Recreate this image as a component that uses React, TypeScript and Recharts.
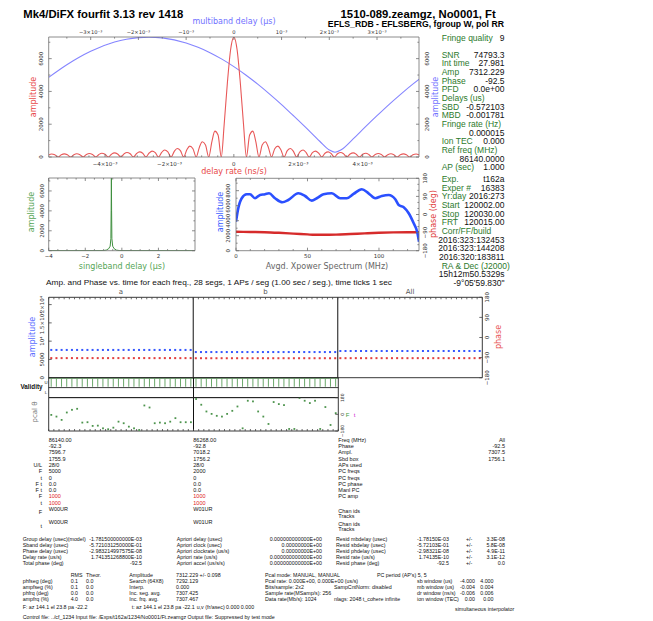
import React from 'react';
import { LineChart, Line, XAxis, YAxis, ComposedChart, Scatter, Bar, ReferenceLine } from 'recharts';

const W = 653;
const H = 621;
const SANS = '"Liberation Sans", Arial, Helvetica, sans-serif';
const PLOT = '"DejaVu Sans", sans-serif';

// ---------------- data ----------------
// delay-rate function (x in 10^-3 ns/s)
const rateX = [-5.75,-5.66,-5.56,-5.46,-5.36,-5.27,-5.17,-5.07,-4.97,-4.88,-4.78,-4.68,-4.58,-4.49,-4.39,-4.29,-4.19,-4.10,-4.00,-3.90,-3.80,-3.71,-3.61,-3.51,-3.41,-3.32,-3.22,-3.12,-3.02,-2.93,-2.83,-2.73,-2.63,-2.54,-2.44,-2.34,-2.24,-2.15,-2.05,-1.95,-1.85,-1.76,-1.66,-1.56,-1.46,-1.37,-1.27,-1.17,-1.07,-0.98,-0.88,-0.78,-0.68,-0.59,-0.49,-0.39,-0.30,-0.20,-0.10,0,0.10,0.20,0.30,0.39,0.49,0.59,0.68,0.78,0.88,0.98,1.07,1.17,1.27,1.37,1.46,1.56,1.66,1.76,1.85,1.95,2.05,2.15,2.24,2.34,2.44,2.54,2.63,2.73,2.83,2.93,3.02,3.12,3.22,3.32,3.41,3.51,3.61,3.71,3.80,3.90,4.00,4.10,4.19,4.29,4.39,4.49,4.58,4.68,4.78,4.88,4.97,5.07,5.17,5.27,5.36,5.46,5.56,5.66,5.75];
const rateAmp = [127,182,131,0,132,190,137,0,139,200,144,0,147,212,153,0,157,228,165,0,172,250,182,0,190,276,201,0,213,312,228,0,244,358,263,0,286,423,313,0,346,517,387,0,439,665,506,0,598,930,731,0,957,1580,1340,0,2000,4540,6560,7312,6560,4540,2000,0,1340,1580,957,0,731,930,598,0,506,665,439,0,387,517,346,0,313,423,286,0,263,358,244,0,228,312,213,0,201,276,190,0,182,250,172,0,165,228,157,0,153,212,147,0,144,200,139,0,137,190,132,0,131,182,127];

// multiband delay function (x in 10^-3 us)
const mbdX = [-3.88,-3.5,-3.25,-3.0,-2.5,-2.25,-2.0,-1.78,-1.5,-1.0,-0.75,-0.5,-0.25,0,0.25,0.5,0.75,1.0,1.25,1.5,1.8,2.0,2.12,2.25,2.5,2.75,3.0,3.25,3.5,3.75,3.88];
const mbdAmp = [4860,5630,6070,6450,7010,7180,7280,7312,7265,6955,6690,6365,5970,5515,5005,4445,3840,3200,2515,1820,960,430,290,440,1100,1820,2520,3200,3840,4445,4740];

// singleband delay function (us)
const sbdX = [-4,-1.0,-0.85,-0.72,-0.64,-0.6,-0.585,-0.572,-0.56,-0.545,-0.5,-0.42,-0.3,-0.15,4];
const sbdAmp = [15,20,60,200,450,1200,4000,7312,4000,1200,450,200,60,20,15];

// averaged cross-power spectrum
const specFreq = [0,1.6,4,7.5,9.8,13.3,16.8,20.3,23.1,27.3,32.4,36.6,43.6,48.3,53,56.5,61.2,67,72.8,77.5,82.2,88,92.7,97.4,102,106.8,111.4,113.8,117.3,120.8,124.3,126.7,128];
const specAmp = [3870,5650,6990,7520,7520,6990,7430,7520,7650,6990,6450,6760,7650,7290,6670,6990,7520,7650,6990,6990,7560,8190,7650,6990,7290,7430,6860,6090,5790,4990,3650,2530,1200];
const phaseFreq = [0,10,20,30,40,50,55,60,70,80,90,100,110,120,128];
const specPhase = [-86,-87,-88,-91,-95,-99,-101,-101,-100,-97,-94,-91,-89,-88,-88];

// per-segment amplitude / phase (28 segments)
const ampA = [7598,7596,7597,7595,7598,7597,7596,7599,7597,7596,7595,7597,7598,7596,7597,7596,7598,7597,7595,7596,7598,7597,7596,7597,7598,7596,7597,7596];
const ampB = [7019,7017,7018,7020,7018,7016,7019,7018,7017,7019,7018,7020,7017,7018,7019,7018,7016,7018,7019,7017,7018,7020,7018,7017,7019,7018,7017,7018];
const ampAll = [7308,7306,7307,7308,7307,7306,7308,7307,7306,7308,7307,7308,7306,7307,7308,7307,7306,7307,7308,7306,7307,7308,7307,7306,7308,7307,7306,7307];
const phA = [-92.2,-92.4,-92.3,-92.3,-92.2,-92.4,-92.3,-92.3,-92.2,-92.3,-92.4,-92.3,-92.3,-92.2,-92.3,-92.4,-92.3,-92.3,-92.2,-92.3,-92.4,-92.3,-92.3,-92.2,-92.3,-92.4,-92.3,-92.3];
const phB = [-92.8,-92.7,-92.9,-92.8,-92.8,-92.7,-92.9,-92.8,-92.8,-92.7,-92.9,-92.8,-92.8,-92.7,-92.9,-92.8,-92.8,-92.7,-92.9,-92.8,-92.8,-92.7,-92.9,-92.8,-92.8,-92.7,-92.9,-92.8];
const phAll = [-92.5,-92.6,-92.5,-92.4,-92.5,-92.6,-92.5,-92.4,-92.5,-92.6,-92.5,-92.4,-92.5,-92.6,-92.5,-92.4,-92.5,-92.6,-92.5,-92.4,-92.5,-92.6,-92.5,-92.4,-92.5,-92.6,-92.5,-92.4];

// validity flags (USB) per segment
const validA = [1,1,1,1,1,1,1,1,1,1,1,1,1,1,1,1,1,1,1,1,1,1,1,1,1,1,1,1];
const validB = [1,1,1,1,1,1,1,1,1,1,1,1,1,1,1,1,1,1,1,1,1,1,1,1,1,1,1,1];

// pcal phases per segment (deg)
const pcalA = [-6,-24,-60,20,49,60,-89,-85,-125,-122,-151,-161,-144,-79,-96,-133,-151,-169,96,74,-96,-89,-96,-79,-41,-85,-85,-85];
const pcalB = [166,104,31,5,-16,-24,5,38,85,-151,147,140,31,-24,-104,133,111,100,-158,-158,177,147,122,147,-158,79,-115,13];

// axis ticks
const rateTicks = [-5.5,-5,-4.5,-4,-3.5,-3,-2.5,-2,-1.5,-1,-0.5,0,0.5,1,1.5,2,2.5,3,3.5,4,4.5,5,5.5];
const rateMajor = [-4,-2,0,2,4];
const mbdTicks = [-3.5,-3,-2.5,-2,-1.5,-1,-0.5,0,0.5,1,1.5,2,2.5,3,3.5];
const mbdMajor = [-3,-2,-1,0,1,2,3];
const ampTicks = [0,1000,2000,3000,4000,5000,6000,7000];
const ampMajor = [0,2000,4000,6000];
const sbdTicks = [-4,-3.5,-3,-2.5,-2,-1.5,-1,-0.5,0,0.5,1,1.5,2,2.5,3,3.5];
const sbdMajor = [-4,-2,0,2];
const freqTicks = [0,10,20,30,40,50,60,70,80,90,100,110,120];
const freqMajor = [0,50,100];
const specAmpTicks = [0,1000,2000,3000,4000,5000,6000,7000,8000,9000];
const specAmpMajor = [0,2000,4000,6000,8000];
const phTicks = [-180,-150,-120,-90,-60,-30,0,30,60,90,120,150,180];
const phMajor = [-180,-90,0,90,180];

// text blocks
const fringeQuality = ['Fringe quality', '9'];
const summaryRows = [['SNR','74793.3'],['Int time','27.981'],['Amp','7312.229'],['Phase','-92.5'],['PFD','0.0e+00'],['Delays (us)',''],['SBD','-0.572103'],['MBD','-0.001781'],['Fringe rate (Hz)',''],['','0.000015'],['Ion TEC','0.000'],['Ref freq (MHz)',''],['','86140.0000'],['AP (sec)','1.000']];
const expRows = [['Exp.','t162a'],['Exper #','16383'],['Yr:day','2016:273'],['Start','120002.00'],['Stop','120030.00'],['FRT','120015.00'],['Corr/FF/build',''],['','2016:323:132453'],['','2016:323:144208'],['','2016:320:183811'],['RA & Dec (J2000)',''],['','15h12m50.5329s'],['','-9°05\'59.830"']];

const chanHdr = ['Freq (MHz)','Phase','Ampl.','Sbd box','APs used','PC freqs','PC freqs','PC phase','Manl PC','PC amp'];
const chanA = ['86140.00','-92.3','7596.7','1755.9','28/0','5000','0','0.0','0.0','1000','1000'];
const chanB = ['86268.00','-92.8','7018.2','1756.2','28/0','2000','0','0.0','0.0','1000','1000'];
const chanAll = ['All','-92.5','7307.5','1756.1'];
const chanRowLbl = ['','','','','U/L','F','t','F t','F t','F','t'];

const resLabels = ['Group delay (usec)(model)','Sband delay (usec)','Phase delay (usec)','Delay rate (us/s)','Total phase (deg)'];
const resModel = ['-1.781500000000E-03','-5.721031250000E-01','-2.983214997575E-08','1.741351268800E-10','-92.5'];
const aprLabels = ['Apriori delay (usec)','Apriori clock (usec)','Apriori clockrate (us/s)','Apriori rate (us/s)','Apriori accel (us/s/s)'];
const aprVals = ['0.000000000000E+00','0.00000000E+00','0.00000000E+00','0.000000000000E+00','0.000000000000E+00'];
const residLabels = ['Resid mbdelay (usec)','Resid sbdelay (usec)','Resid phdelay (usec)','Resid rate (us/s)','Resid phase (deg)'];
const residVals = ['-1.78150E-03','-5.72103E-01','-2.98321E-08','1.74135E-10','-92.5'];
const residErr = ['3.3E-08','5.8E-08','4.9E-11','3.1E-12','0.0'];

const statLabels = ['phfseg (deg)','ampfseg (%)','phfrq (deg)','ampfrq (%)'];
const statRms = ['0.1','0.1','0.0','4.0'];
const statTheor = ['0.0','0.0','0.0','0.0'];
const ampLabels = ['Search (64X8)','Interp.','Inc. seg. avg.','Inc. frq. avg.'];
const ampVals = ['7292.129','0.000','7307.425','7307.467'];
const pcalInfo = ['Pcal rate: 0.000E+00,  0.000E+00  (us/s)','Bits/sample: 2x2','Sample rate(MSamp/s): 256','Data rate(Mb/s): 1024'];
const midInfo = ['','SampCntNorm: disabled','','nlags: 2048  t_cohere infinite'];
const winLabels = ['sb window (us)','mb window (us)','dr window (ns/s)','ion window (TEC)'];
const winLo = ['-4.000','-0.004','-0.006','0.00'];
const winHi = ['4.000','0.004','0.006','0.00'];

// ---------------- derived tables ----------------
const rateData = rateX.map((x, i) => ({ x, y: rateAmp[i] }));
const mbdData = mbdX.map((x, i) => ({ x, y: mbdAmp[i] }));
const sbdData = sbdX.map((x, i) => ({ x, y: sbdAmp[i] }));
const specData = specFreq.map((x, i) => ({ x, y: specAmp[i] }));
const phaseData = phaseFreq.map((x, i) => ({ x, y: specPhase[i] }));
const NSEG = 28;
const segAmp = [...ampA.map((y, i) => ({ x: i + 0.5, y })), ...ampB.map((y, i) => ({ x: NSEG + i + 0.5, y })), ...ampAll.map((y, i) => ({ x: 2 * NSEG + i + 0.5, y }))];
const segPh = [...phA.map((y, i) => ({ x: i + 0.5, y })), ...phB.map((y, i) => ({ x: NSEG + i + 0.5, y })), ...phAll.map((y, i) => ({ x: 2 * NSEG + i + 0.5, y }))];
const validData = [...validA.map((v, i) => ({ x: i + 0.5, u: v ? [1.08, 1.93] : [1, 1] })), ...validB.map((v, i) => ({ x: NSEG + i + 0.5, u: v ? [1.08, 1.93] : [1, 1] }))];
const pcalData = [...pcalA.map((y, i) => ({ x: i + 0.5, y })), ...pcalB.map((y, i) => ({ x: NSEG + i + 0.5, y }))];
const segTicks3 = Array.from({ length: 3 * NSEG + 1 }, (_, i) => i);
const segTicks2 = Array.from({ length: 2 * NSEG + 1 }, (_, i) => i);

// ---------------- helpers ----------------
const abs: React.CSSProperties = { position: 'absolute', left: 0, top: 0 };
const FRAME = '#6f6f6f';

type Side = 'left' | 'right' | 'top' | 'bottom';
type TickOpts = { side: Side; len?: number; off?: number; fs?: number; color?: string; fmt?: (v: number) => string; rot?: boolean; noLabel?: boolean; lc?: string; major?: number[] };
const mkTick = (o: TickOpts) => (p: any) => {
  const { x, y, payload } = p;
  const v = payload ? payload.value : 0;
  const isMajor = !o.major || o.major.includes(v);
  const len = isMajor ? (o.len ?? 3) : 1.6;
  const off = o.off ?? 6;
  let x2 = x, y2 = y, lx = x, ly = y;
  if (o.side === 'left') { x2 = x + len; lx = x - off; }
  else if (o.side === 'right') { x2 = x - len; lx = x + off; }
  else if (o.side === 'top') { y2 = y + len; ly = y - off; }
  else { y2 = y - len; ly = y + off; }
  const label = o.noLabel || !isMajor ? '' : (o.fmt ? o.fmt(v) : String(v));
  return (
    <g>
      <line x1={x} y1={y} x2={x2} y2={y2} stroke={o.lc ?? FRAME} strokeWidth={0.8} />
      {label !== '' && (
        <text x={lx} y={ly} textAnchor="middle" dominantBaseline="central" fontSize={o.fs ?? 5.5}
          fill={o.color ?? '#333'} fontFamily={PLOT} transform={o.rot ? `rotate(-90 ${lx} ${ly})` : undefined}>{label}</text>
      )}
    </g>
  );
};

const milli = (v: number) => {
  if (v === 0) return '0';
  const s = v < 0 ? '−' : '';
  const a = Math.abs(v);
  return a === 1 ? `${s}10⁻³` : `${s}${a}×10⁻³`;
};
const signed = (v: number) => (v < 0 ? `−${Math.abs(v)}` : String(v));
const ampFmt = (v: number) => (v === 0 ? '0' : v === 5000 ? '5000' : v === 10000 ? '10⁴' : v === 15000 ? '1.5×10⁴' : '2×10⁴');

// axes get 1px of size (zero-size axes are not drawn); margins compensate
const ax = { tickSize: 0, tickMargin: 0, interval: 0 as const, allowDataOverflow: true, axisLine: { stroke: FRAME, strokeWidth: 0.8 } };
const axK = { ...ax, axisLine: { stroke: '#222', strokeWidth: 0.9 } };
const mg = (l: number, t: number, r: number, b: number) => ({ left: l - 1, top: t - 1, right: W - r - 1, bottom: H - b - 1 });

const sq = (color: string, s = 2) => (p: any) => <rect x={p.cx - s / 2} y={p.cy - s / 2} width={s} height={s} fill={color} />;

function Tx({ x, y, t, a = 'start', s = 5.5, c = '#111', w = 400, f = SANS, r = false, tl }: any) {
  return (
    <text x={x} y={y} textAnchor={a} dominantBaseline="central" fontSize={s} fill={c} fontWeight={w} fontFamily={f}
      transform={r ? `rotate(-90 ${x} ${y})` : undefined} textLength={tl} lengthAdjust={tl ? 'spacingAndGlyphs' : undefined}>{t}</text>
  );
}

// ---------------- charts ----------------
function TopChart() {
  return (
    <LineChart width={W} height={H} margin={mg(48.7, 37, 419, 157)}>
      <XAxis xAxisId="rate" orientation="bottom" type="number" dataKey="x" domain={[-5.75, 5.75]} ticks={rateTicks} height={1} {...ax} tick={mkTick({ side: 'bottom', off: 6.5, fmt: milli, major: rateMajor })} />
      <XAxis xAxisId="mbd" orientation="top" type="number" dataKey="x" domain={[-3.88, 3.88]} ticks={mbdTicks} height={1} {...ax} tick={mkTick({ side: 'top', off: 4.8, fs: 5.2, fmt: milli, major: mbdMajor })} />
      <YAxis yAxisId="l" type="number" domain={[0, 7320]} ticks={ampTicks} width={1} {...ax} tick={mkTick({ side: 'left', off: 8, rot: true, major: ampMajor })} />
      <YAxis yAxisId="r" orientation="right" type="number" domain={[0, 7320]} ticks={ampTicks} width={1} {...ax} tick={mkTick({ side: 'right', off: 7.7, rot: true, major: ampMajor })} />
      <Line data={mbdData} xAxisId="mbd" yAxisId="l" dataKey="y" type="monotone" stroke="#8585ff" strokeWidth={1.1} dot={false} isAnimationActive={false} />
      <Line data={rateData} xAxisId="rate" yAxisId="l" dataKey="y" type="monotone" stroke="#e85858" strokeWidth={1.1} dot={false} isAnimationActive={false} />
    </LineChart>
  );
}

function SbdChart() {
  return (
    <LineChart width={W} height={H} margin={mg(48.7, 178, 195, 250.7)}>
      <XAxis xAxisId="b" orientation="bottom" type="number" dataKey="x" domain={[-4, 4]} ticks={sbdTicks} height={1} {...ax} tick={mkTick({ side: 'bottom', off: 5.5, fmt: signed, major: sbdMajor })} />
      <XAxis xAxisId="t" orientation="top" type="number" dataKey="x" domain={[-4, 4]} ticks={sbdTicks} height={1} {...ax} tick={mkTick({ side: 'top', noLabel: true, major: sbdMajor })} />
      <YAxis yAxisId="l" type="number" domain={[0, 7300]} ticks={ampTicks} width={1} {...ax} tick={mkTick({ side: 'left', off: 7, rot: true, major: ampMajor })} />
      <YAxis yAxisId="r" orientation="right" type="number" domain={[0, 7300]} ticks={ampTicks} width={1} {...ax} tick={mkTick({ side: 'right', noLabel: true, major: ampMajor })} />
      <Line data={sbdData} xAxisId="b" yAxisId="l" dataKey="y" type="linear" stroke="#3f8f3f" strokeWidth={1} dot={false} isAnimationActive={false} />
    </LineChart>
  );
}

function SpecChart() {
  return (
    <LineChart width={W} height={H} margin={mg(236, 178.3, 419, 250.7)}>
      <XAxis xAxisId="b" orientation="bottom" type="number" dataKey="x" domain={[0, 128]} ticks={freqTicks} height={1} {...ax} tick={mkTick({ side: 'bottom', off: 5.5, major: freqMajor })} />
      <XAxis xAxisId="t" orientation="top" type="number" dataKey="x" domain={[0, 128]} ticks={freqTicks} height={1} {...ax} tick={mkTick({ side: 'top', noLabel: true, major: freqMajor })} />
      <YAxis yAxisId="a" type="number" domain={[0, 9650]} ticks={specAmpTicks} width={1} {...ax} tick={mkTick({ side: 'left', off: 7.7, rot: true, major: specAmpMajor })} />
      <YAxis yAxisId="p" orientation="right" type="number" domain={[-180, 180]} ticks={phTicks} width={1} {...ax} tick={mkTick({ side: 'right', off: 6, rot: true, fmt: signed, major: phMajor })} />
      <Line data={phaseData} xAxisId="b" yAxisId="p" dataKey="y" type="monotone" stroke="#d62b2b" strokeWidth={2.4} dot={false} isAnimationActive={false} />
      <Line data={specData} xAxisId="b" yAxisId="a" dataKey="y" type="monotone" stroke="#2b50ff" strokeWidth={2.6} dot={false} isAnimationActive={false} />
    </LineChart>
  );
}

function SegChart() {
  return (
    <ComposedChart width={W} height={H} margin={mg(48.7, 297.3, 482.3, 377.7)}>
      <XAxis xAxisId="b" orientation="bottom" type="number" dataKey="x" domain={[0, 84]} ticks={[]} height={1} {...axK} tick={false} />
      <XAxis xAxisId="t" orientation="top" type="number" dataKey="x" domain={[0, 84]} ticks={segTicks3} height={1} {...axK} tick={mkTick({ side: 'top', len: 2, noLabel: true, lc: '#444' })} />
      <YAxis yAxisId="a" type="number" dataKey="y" domain={[0, 22000]} ticks={[0, 5000, 10000, 15000, 20000]} width={1} {...axK} tick={mkTick({ side: 'left', off: 7, rot: true, fmt: ampFmt, lc: '#444' })} />
      <YAxis yAxisId="p" orientation="right" type="number" dataKey="y" domain={[-180, 180]} ticks={[-180, -90, 0, 90, 180]} width={1} {...axK} tick={mkTick({ side: 'right', off: 4.5, rot: true, fmt: signed, lc: '#444' })} />
      <ReferenceLine xAxisId="t" yAxisId="a" x={NSEG} stroke="#111" strokeWidth={1} />
      <ReferenceLine xAxisId="t" yAxisId="a" x={2 * NSEG} stroke="#111" strokeWidth={1} />
      <Scatter data={segAmp} xAxisId="t" yAxisId="a" shape={sq('#3557ff')} isAnimationActive={false} />
      <Scatter data={segPh} xAxisId="t" yAxisId="p" shape={sq('#e23d3d')} isAnimationActive={false} />
    </ComposedChart>
  );
}

function ValidChart() {
  return (
    <ComposedChart width={W} height={H} data={validData} margin={mg(48.7, 377.7, 338.3, 397.5)}>
      <XAxis xAxisId="b" orientation="bottom" type="number" dataKey="x" domain={[0, 56]} ticks={[]} height={1} {...axK} tick={false} />
      <XAxis xAxisId="t" orientation="top" type="number" dataKey="x" domain={[0, 56]} ticks={[]} height={1} {...axK} tick={false} />
      <YAxis yAxisId="l" type="number" domain={[0, 2]} ticks={[]} width={1} {...axK} tick={false} />
      <YAxis yAxisId="r" orientation="right" type="number" domain={[0, 2]} ticks={[]} width={1} {...axK} tick={false} />
      <ReferenceLine xAxisId="b" yAxisId="l" y={1.93} stroke="#6aa86a" strokeWidth={0.8} />
      <Bar dataKey="u" xAxisId="b" yAxisId="l" barSize={1} fill="#6aa86a" isAnimationActive={false} />
      <ReferenceLine xAxisId="b" yAxisId="l" y={1} stroke="#222" strokeWidth={0.9} />
      <ReferenceLine xAxisId="b" yAxisId="l" x={NSEG} stroke="#111" strokeWidth={1} />
    </ComposedChart>
  );
}

function PcalChart() {
  return (
    <ComposedChart width={W} height={H} margin={mg(48.7, 397.7, 338.3, 431)}>
      <XAxis xAxisId="b" orientation="bottom" type="number" dataKey="x" domain={[0, 56]} ticks={segTicks2} height={1} {...axK} tick={mkTick({ side: 'bottom', len: 2, noLabel: true, lc: '#444' })} />
      <XAxis xAxisId="t" orientation="top" type="number" dataKey="x" domain={[0, 56]} ticks={[]} height={1} {...axK} tick={false} />
      <YAxis yAxisId="l" type="number" dataKey="y" domain={[-180, 180]} ticks={[]} width={1} {...axK} tick={false} />
      <YAxis yAxisId="r" orientation="right" type="number" dataKey="y" domain={[-180, 180]} ticks={[-180, 0, 180]} width={1} {...axK} tick={mkTick({ side: 'right', off: 3.8, rot: true, fs: 4.5, fmt: signed, lc: '#444' })} />
      <ReferenceLine xAxisId="b" yAxisId="r" x={NSEG} stroke="#111" strokeWidth={1} />
      <Scatter data={pcalData} xAxisId="b" yAxisId="r" shape={sq('#4d944d', 1.8)} isAnimationActive={false} />
    </ComposedChart>
  );
}

// ---------------- text overlay ----------------
const GT = '#2c7a2c';
function Overlay() {
  const rs = 8.65;
  const up0 = 439.7, upS = 6.3;
  const lo0 = 539, loS = 6;
  const st0 = 581, stS = 6;
  const fs = 5.3;
  return (
    <svg width={W} height={H} style={{ ...abs, pointerEvents: 'none' }}>
      {/* headers */}
      <Tx x={23.3} y={14} t="Mk4/DiFX fourfit 3.13 rev 1418" s={11.3} w={700} c="#000" />
      <Tx x={495.7} y={13.6} t="1510-089.zeamgz, No0001, Ft" a="end" s={11.3} w={700} c="#000" />
      <Tx x={504} y={24} t="EFLS_RDB - EFLSBERG, fgroup W, pol RR" a="end" s={8.7} w={700} c="#000" />

      {/* top plot titles */}
      <Tx x={234} y={21.5} t="multiband delay (µs)" a="middle" s={8} c="#7070ff" f={PLOT} />
      <Tx x={234} y={171} t="delay rate (ns/s)" a="middle" s={8} c="#e84848" f={PLOT} />
      <Tx x={33.3} y={97} t="amplitude" a="middle" s={8} c="#e84848" f={PLOT} r />
      <Tx x={435} y={97} t="amplitude" a="middle" s={8} c="#7070ff" f={PLOT} r />

      {/* sbd titles */}
      <Tx x={31.7} y={212} t="amplitude" a="middle" s={8} c="#55a555" f={PLOT} r />
      <Tx x={122} y={266.7} t="singleband delay (µs)" a="middle" s={8} c="#55a555" f={PLOT} />

      {/* spectrum titles */}
      <Tx x={220} y={212} t="amplitude" a="middle" s={8} c="#3a5cff" f={PLOT} r />
      <Tx x={433.5} y={214} t="phase (deg)" a="middle" s={8} c="#e04040" f={PLOT} r />
      <Tx x={327} y={266.7} t="Avgd. Xpower Spectrum (MHz)" a="middle" s={8} c="#666" f={PLOT} />

      {/* right info panel */}
      <Tx x={441.7} y={38.3} t={fringeQuality[0]} s={8.5} c={GT} />
      <Tx x={504.5} y={38.3} t={fringeQuality[1]} a="end" s={8.5} c="#111" />
      {summaryRows.map((r, i) => (
        <g key={'s' + i}>
          {r[0] && <Tx x={441.7} y={54.7 + i * rs} t={r[0]} s={8.5} c={GT} />}
          {r[1] && <Tx x={504.5} y={54.7 + i * rs} t={r[1]} a="end" s={8.5} c="#111" />}
        </g>
      ))}
      {expRows.map((r, i) => (
        <g key={'e' + i}>
          {r[0] && <Tx x={441.7} y={179 + i * 8.67} t={r[0]} s={8.5} c={GT} />}
          {r[1] && <Tx x={504.5} y={179 + i * 8.67} t={r[1]} a="end" s={8.5} c="#111" />}
        </g>
      ))}

      {/* segment panel labels */}
      <Tx x={46} y={282.7} t="Amp. and Phase vs. time for each freq., 28 segs, 1 APs / seg (1.00 sec / seg.), time ticks 1 sec" s={7} c="#111" tl={346} />
      <Tx x={121} y={292.3} t="a" a="middle" s={7} c="#555" f={PLOT} />
      <Tx x={265.5} y={292.3} t="b" a="middle" s={7} c="#555" f={PLOT} />
      <Tx x={410} y={292.3} t="All" a="middle" s={7} c="#555" f={PLOT} />
      <Tx x={32} y={337} t="amplitude" a="middle" s={8} c="#5a6dff" f={PLOT} r />
      <Tx x={498} y={337} t="phase" a="middle" s={8} c="#e85555" f={PLOT} r />
      <Tx x={42.5} y={386.7} t="Validity" a="end" s={6.3} w={700} c="#111" />
      <Tx x={46} y={382.5} t="U" a="middle" s={4.3} c="#222" />
      <Tx x={46} y={392.5} t="L" a="middle" s={4.3} c="#222" />
      <Tx x={35} y={412} t="pcal θ" a="middle" s={7} c="#777" f={PLOT} r />
      <Tx x={347.5} y={414.5} t="F" a="middle" s={6} c="#3a9a3a" />
      <Tx x={354.5} y={414.5} t="t" a="middle" s={6} c="#d020d0" />

      {/* channel table */}
      {chanA.map((v, i) => <Tx key={'ca' + i} x={48.7} y={up0 + i * upS} t={v} c={i >= 9 ? '#e02020' : '#111'} />)}
      {chanB.map((v, i) => <Tx key={'cb' + i} x={193.3} y={up0 + i * upS} t={v} c={i >= 9 ? '#e02020' : '#111'} />)}
      {chanHdr.map((v, i) => <Tx key={'ch' + i} x={338.3} y={up0 + i * upS} t={v} />)}
      {chanAll.map((v, i) => <Tx key={'cl' + i} x={505} y={up0 + i * upS} t={v} a="end" />)}
      {chanRowLbl.map((v, i) => (v ? <Tx key={'cr' + i} x={42} y={up0 + i * upS} t={v} a="end" /> : null))}
      <Tx x={48.7} y={509} t="W00UR" />
      <Tx x={193.3} y={509} t="W01UR" />
      <Tx x={42} y={512.3} t="F" a="end" />
      <Tx x={338.3} y={510.5} t="Chan ids" />
      <Tx x={338.3} y={516} t="Tracks" />
      <Tx x={48.7} y={522.3} t="W00UR" />
      <Tx x={193.3} y={522.3} t="W01UR" />
      <Tx x={42} y={525.7} t="t" a="end" />
      <Tx x={338.3} y={523.5} t="Chan ids" />
      <Tx x={338.3} y={529} t="Tracks" />

      {/* delay / residual block */}
      {resLabels.map((v, i) => (
        <g key={'r' + i}>
          <Tx x={22.7} y={lo0 + i * loS} t={v} s={fs} />
          <Tx x={142} y={lo0 + i * loS} t={resModel[i]} a="end" s={fs} />
          <Tx x={176.7} y={lo0 + i * loS} t={aprLabels[i]} s={fs} />
          <Tx x={322} y={lo0 + i * loS} t={aprVals[i]} a="end" s={fs} />
          <Tx x={336} y={lo0 + i * loS} t={residLabels[i]} s={fs} />
          <Tx x={449} y={lo0 + i * loS} t={residVals[i]} a="end" s={fs} />
          <Tx x={466} y={lo0 + i * loS} t="+/-" s={fs} />
          <Tx x={505} y={lo0 + i * loS} t={residErr[i]} a="end" s={fs} />
        </g>
      ))}

      {/* statistics block */}
      <Tx x={70.7} y={575} t="RMS" s={fs} />
      <Tx x={86} y={575} t="Theor." s={fs} />
      <Tx x={129.3} y={575} t="Amplitude" s={fs} />
      <Tx x={176} y={575} t="7312.229 +/- 0.098" s={fs} />
      <Tx x={265} y={575} t="Pcal mode: MANUAL,  MANUAL" s={fs} />
      <Tx x={377} y={575} t="PC period (AP's)  5,  5" s={fs} />
      {statLabels.map((v, i) => (
        <g key={'st' + i}>
          <Tx x={22.7} y={st0 + i * stS} t={v} s={fs} />
          <Tx x={70.7} y={st0 + i * stS} t={statRms[i]} s={fs} />
          <Tx x={86} y={st0 + i * stS} t={statTheor[i]} s={fs} />
          <Tx x={129.3} y={st0 + i * stS} t={ampLabels[i]} s={fs} />
          <Tx x={176} y={st0 + i * stS} t={ampVals[i]} s={fs} />
          <Tx x={265} y={st0 + i * stS} t={pcalInfo[i]} s={fs} />
          {midInfo[i] && <Tx x={334} y={st0 + i * stS} t={midInfo[i]} s={fs} />}
          <Tx x={417} y={st0 + i * stS} t={winLabels[i]} s={fs} />
          <Tx x={475} y={st0 + i * stS} t={winLo[i]} a="end" s={fs} />
          <Tx x={493.5} y={st0 + i * stS} t={winHi[i]} a="end" s={fs} />
        </g>
      ))}
      <Tx x={22.7} y={607} t="F: az 144.1  el 23.8  pa -22.2" s={fs} />
      <Tx x={131.7} y={607} t="t: az 144.1  el 23.8  pa -22.1" s={fs} />
      <Tx x={196.7} y={607} t="u,v (fr/asec) 0.000  0.000" s={fs} />
      <Tx x={455} y={608.5} t="simultaneous interpolator" s={fs} />
      <Tx x={22.7} y={616.5} t="Control file: ../cf_1234    Input file: /Exps/t162a/1234/No0001/Ft.zeamgz    Output file: Suppressed by test mode" s={fs} />
    </svg>
  );
}

export default function App() {
  return (
    <div style={{ position: 'absolute', left: 0, top: 0, width: W, height: H, background: '#fff', overflow: 'hidden' }}>
      <div style={abs}><TopChart /></div>
      <div style={abs}><SbdChart /></div>
      <div style={abs}><SpecChart /></div>
      <div style={abs}><SegChart /></div>
      <div style={abs}><ValidChart /></div>
      <div style={abs}><PcalChart /></div>
      <Overlay />
    </div>
  );
}
